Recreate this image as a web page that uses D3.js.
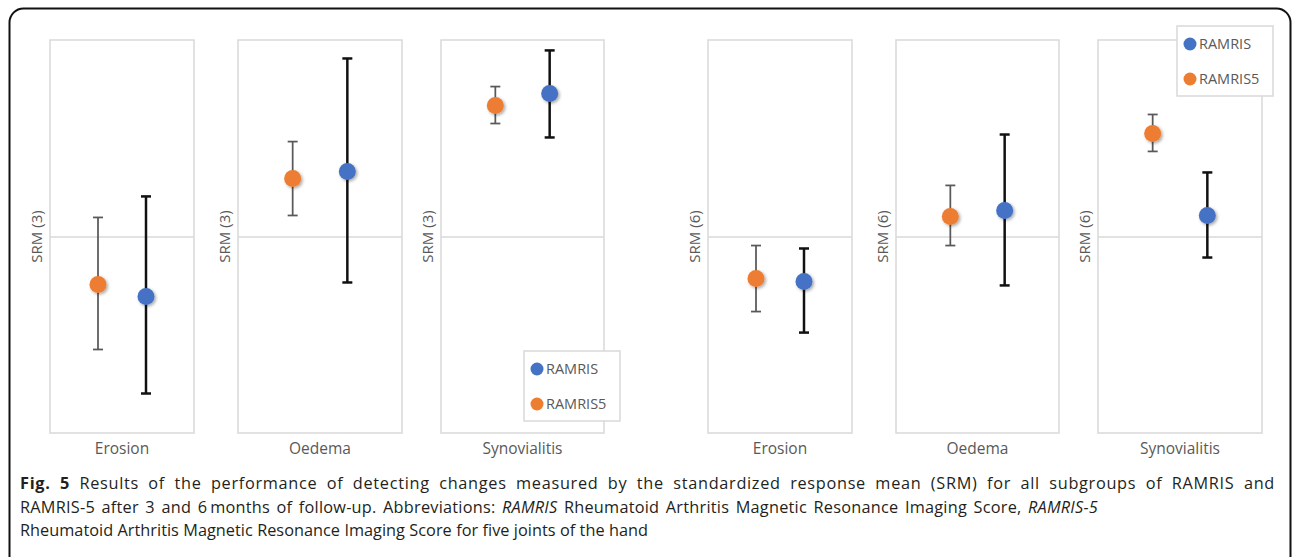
<!DOCTYPE html>
<html lang="en">
<head>
  <meta charset="UTF-8">
  <title>SRM of RAMRIS and RAMRIS-5</title>
  <script src="https://d3js.org/d3.v7.min.js"></script>
  <style>
    body {
      margin: 0;
      background: #fff;
    }
    svg {
      display: block;
    }
  </style>
</head>
<body>

<script>
  // chart data (SRM, common scale -1..1)
  const categories = ["Erosion", "Oedema", "Synovialitis"];
  const followUps = ["SRM (3)", "SRM (6)"];
  const seriesNames = ["RAMRIS", "RAMRIS5"];

  const ramris3 = [-0.305, 0.331, 0.728];
  const ramris3Low = [-0.799, -0.234, 0.504];
  const ramris3High = [0.204, 0.906, 0.947];
  const ramris5at3 = [-0.244, 0.295, 0.667];
  const ramris5at3Low = [-0.575, 0.107, 0.575];
  const ramris5at3High = [0.097, 0.483, 0.763];

  const ramris6 = [-0.229, 0.132, 0.107];
  const ramris6Low = [-0.489, -0.249, -0.107];
  const ramris6High = [-0.061, 0.519, 0.326];
  const ramris5at6 = [-0.214, 0.102, 0.524];
  const ramris5at6Low = [-0.382, -0.046, 0.433];
  const ramris5at6High = [-0.046, 0.260, 0.621];

  const yDomain = [-1, 1];
  const gridTicks = [0];

  const W = 1292, H = 557;
  const blue = "#4472C4", orange = "#ED7D31";
  const grey = "#595959", border = "#d9d9d9";

  const svg = d3.select("body").append("svg")
    .attr("width", W)
    .attr("height", H);

  const defs = svg.append("defs");
  defs.append("filter")
    .attr("id", "shadow")
    .attr("x", "-50%").attr("y", "-50%")
    .attr("width", "200%").attr("height", "200%")
    .append("feDropShadow")
    .attr("dx", 1.5).attr("dy", 1.5)
    .attr("stdDeviation", 1.5)
    .attr("flood-color", "#000")
    .attr("flood-opacity", 0.35);

  // outer frame
  svg.append("rect")
    .attr("x", 9.5).attr("y", 8.5)
    .attr("width", 1281).attr("height", 562)
    .attr("rx", 14).attr("ry", 14)
    .attr("fill", "none")
    .attr("stroke", "#111")
    .attr("stroke-width", 2);

  // panel layout: one little chart per category and follow-up
  const panelLeft = [[50, 238, 441], [708, 896, 1098]];
  const panelWidth = [[144, 164, 163], [144, 163, 164]];
  const plotTop = 40, plotBottom = 433;

  const y = d3.scaleLinear().domain(yDomain).range([plotBottom, plotTop]);

  const tables = [
    { RAMRIS: [ramris3, ramris3Low, ramris3High], RAMRIS5: [ramris5at3, ramris5at3Low, ramris5at3High] },
    { RAMRIS: [ramris6, ramris6Low, ramris6High], RAMRIS5: [ramris5at6, ramris5at6Low, ramris5at6High] }
  ];

  // series order along x in every panel: RAMRIS5 left, RAMRIS right
  const xOrder = ["RAMRIS5", "RAMRIS"];
  const style = {
    RAMRIS: { fill: blue, bar: "#111", width: 2.5 },
    RAMRIS5: { fill: orange, bar: grey, width: 1.75 }
  };

  followUps.forEach(function(label, f) {
    categories.forEach(function(cat, c) {
      const x0 = panelLeft[f][c], w = panelWidth[f][c];
      const g = svg.append("g").attr("transform", "translate(" + x0 + ",0)");
      const x = d3.scalePoint().domain(xOrder).range([0, w]).padding(1);

      // zero gridline through the axis
      g.append("g")
        .call(d3.axisLeft(y).tickValues(gridTicks).tickSize(-w).tickFormat(""))
        .call(s => s.select(".domain").remove())
        .call(s => s.selectAll(".tick line").attr("stroke", border).attr("stroke-width", 1.5));

      // plot frame
      g.append("rect")
        .attr("x", 0).attr("y", plotTop)
        .attr("width", w).attr("height", plotBottom - plotTop)
        .attr("fill", "none")
        .attr("stroke", border)
        .attr("stroke-width", 1.5);

      // y title
      g.append("text")
        .attr("transform", "translate(-13," + y(0) + ") rotate(-90)")
        .attr("text-anchor", "middle")
        .attr("dy", "0.35em")
        .attr("font-family", "Open Sans, sans-serif")
        .attr("font-size", 15)
        .attr("fill", grey)
        .text(label);

      // category label
      g.append("text")
        .attr("x", w / 2).attr("y", 454)
        .attr("text-anchor", "middle")
        .attr("font-family", "Open Sans, sans-serif")
        .attr("font-size", 15.5)
        .attr("fill", grey)
        .text(cat);

      const pts = xOrder.map(function(s) {
        const t = tables[f][s];
        return { s: s, v: t[0][c], lo: t[1][c], hi: t[2][c] };
      });

      // error bars
      const bars = g.selectAll(".err").data(pts).enter().append("g");
      bars.append("line")
        .attr("x1", d => x(d.s)).attr("x2", d => x(d.s))
        .attr("y1", d => y(d.hi)).attr("y2", d => y(d.lo))
        .attr("stroke", d => style[d.s].bar)
        .attr("stroke-width", d => style[d.s].width);
      ["hi", "lo"].forEach(function(k) {
        bars.append("line")
          .attr("x1", d => x(d.s) - 5).attr("x2", d => x(d.s) + 5)
          .attr("y1", d => y(d[k])).attr("y2", d => y(d[k]))
          .attr("stroke", d => style[d.s].bar)
          .attr("stroke-width", d => style[d.s].width);
      });

      // markers
      g.selectAll(".pt").data(pts).enter().append("circle")
        .attr("cx", d => x(d.s))
        .attr("cy", d => y(d.v))
        .attr("r", 8.5)
        .attr("fill", d => style[d.s].fill)
        .attr("filter", "url(#shadow)");
    });
  });

  // legends
  function legend(x0, y0) {
    const lg = svg.append("g").attr("transform", "translate(" + x0 + "," + y0 + ")");
    lg.append("rect")
      .attr("width", 96).attr("height", 70)
      .attr("fill", "#fff")
      .attr("stroke", border)
      .attr("stroke-width", 1.5);
    const items = lg.selectAll(".item").data(seriesNames).enter().append("g")
      .attr("transform", (d, i) => "translate(0," + (18 + i * 35) + ")");
    items.append("circle")
      .attr("cx", 13).attr("r", 6.5)
      .attr("fill", d => style[d].fill);
    items.append("text")
      .attr("x", 22).attr("dy", "0.35em")
      .attr("font-family", "Open Sans, sans-serif")
      .attr("font-size", 14.5)
      .attr("fill", grey)
      .text(d => d);
  }
  legend(524, 351);
  legend(1177, 26);

  // caption, lines stretched to the widths in the figure
  const lines = [
    [["Fig. 5", "bold"], [" Results of the performance of detecting changes measured by the standardized response mean (SRM) for all subgroups of RAMRIS and", ""]],
    [["RAMRIS-5 after 3 and 6\u2009months of follow-up. Abbreviations: ", ""], ["RAMRIS", "italic"], [" Rheumatoid Arthritis Magnetic Resonance Imaging Score, ", ""], ["RAMRIS-5", "italic"]],
    [["Rheumatoid Arthritis Magnetic Resonance Imaging Score for five joints of the hand", ""]]
  ];
  const lineEnds = [1275, 1098, 648];

  lines.forEach(function(parts, i) {
    const t = svg.append("text")
      .attr("x", 20).attr("y", 489 + i * 23.5)
      .attr("font-family", "Open Sans, sans-serif")
      .attr("font-size", 16.3)
      .attr("fill", "#231f20");
    parts.forEach(function(p) {
      t.append("tspan")
        .attr("font-weight", p[1] === "bold" ? 700 : null)
        .attr("font-style", p[1] === "italic" ? "italic" : null)
        .text(p[0]);
    });
    const str = parts.map(p => p[0]).join("");
    const natural = t.node().getComputedTextLength();
    const extra = Math.max(0, lineEnds[i] - 20 - natural);
    const spaces = str.split(" ").length - 1;
    t.attr("word-spacing", extra * 0.5 / spaces)
      .attr("letter-spacing", extra * 0.5 / str.length);
  });
</script>

</body>
</html>
